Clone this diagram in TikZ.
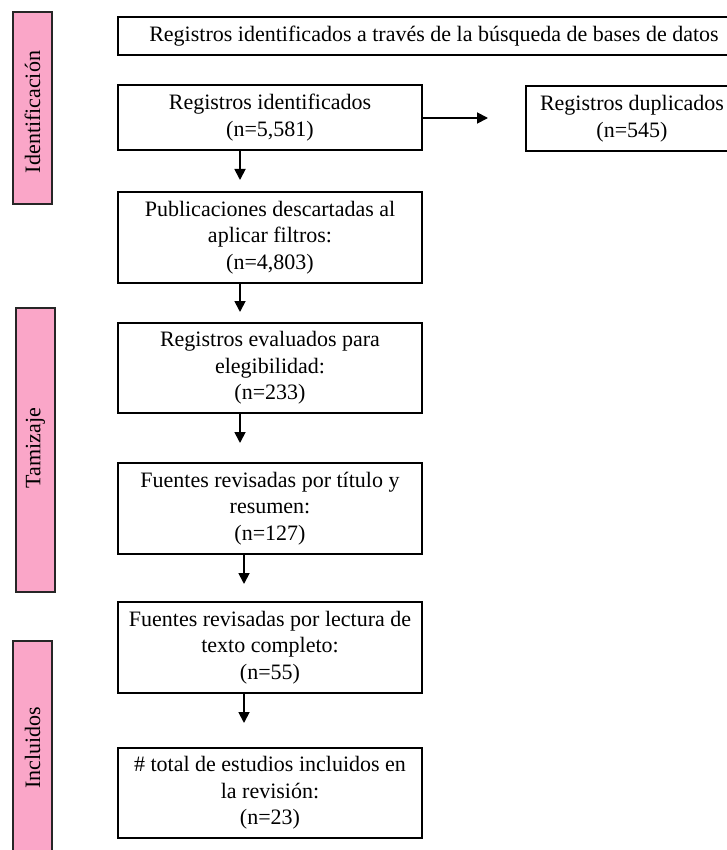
\documentclass[tikz,border=0pt]{standalone}
\usepackage{fontspec}
\setmainfont{Liberation Serif}
\usetikzlibrary{arrows.meta,calc}
\definecolor{pinkbar}{RGB}{250,166,200}
\tikzset{
  box/.style={draw=black, line width=1.2pt, inner sep=0pt, align=center,
    font=\fontsize{22}{26.5}\selectfont},
  bar/.style={draw=black!85, line width=1.2pt, fill=pinkbar},
  bartext/.style={rotate=90, font=\fontsize{22}{26}\selectfont},
  arr/.style={line width=1.8pt, -{Triangle[width=11pt,length=11pt]}}
}
\begin{document}
\begin{tikzpicture}[x=1pt,y=-1pt]
\clip (0,0) rectangle (727,850);
\fill[white] (0,0) rectangle (727,850);
% side bars
\draw[bar] (13,12) rectangle (52,204);
\node[bartext] (lid) at (32.5,112) {Identificación};
\draw[bar] (16,308) rectangle (55,592);
\node[bartext] (ltam) at (35.5,448) {Tamizaje};
\draw[bar] (13,641) rectangle (52,870);
\node[bartext] (linc) at (32.5,748) {Incluidos};
% boxes
\node[box, minimum width=632, minimum height=38] (top) at (434,36) {Registros identificados a través de la búsqueda de bases de datos};
\node[box, minimum width=304, minimum height=65] (ri) at (270,117.5) {Registros identificados\\(n=5,581)};
\node[box, minimum width=212, minimum height=65] (dup) at (632,118.5) {Registros duplicados\\(n=545)};
\node[box, minimum width=304, minimum height=91] (pub) at (270,237.5) {Publicaciones descartadas al\\aplicar filtros:\\(n=4,803)};
\node[box, minimum width=304, minimum height=90] (eva) at (270,368) {Registros evaluados para\\elegibilidad:\\(n=233)};
\node[box, minimum width=304, minimum height=91] (tit) at (270,508.5) {Fuentes revisadas por título y\\resumen:\\(n=127)};
\node[box, minimum width=304, minimum height=91] (lec) at (270,647.5) {Fuentes revisadas por lectura de\\texto completo:\\(n=55)};
\node[box, minimum width=304, minimum height=90] (tot) at (270,793) {\# total de estudios incluidos en\\la revisión:\\(n=23)};
% arrow ends
\coordinate (e0) at (488,118);
\coordinate (e1) at (240,180);
\coordinate (e2) at (240,312);
\coordinate (e3) at (240,443);
\coordinate (e4) at (244,584);
\coordinate (e5) at (244,723);
\draw[arr] (ri.east |- e0) -- (e0);
\draw[arr] (ri.south -| e1) -- (e1);
\draw[arr] (pub.south -| e2) -- (e2);
\draw[arr] (eva.south -| e3) -- (e3);
\draw[arr] (tit.south -| e4) -- (e4);
\draw[arr] (lec.south -| e5) -- (e5);
\end{tikzpicture}
\end{document}
